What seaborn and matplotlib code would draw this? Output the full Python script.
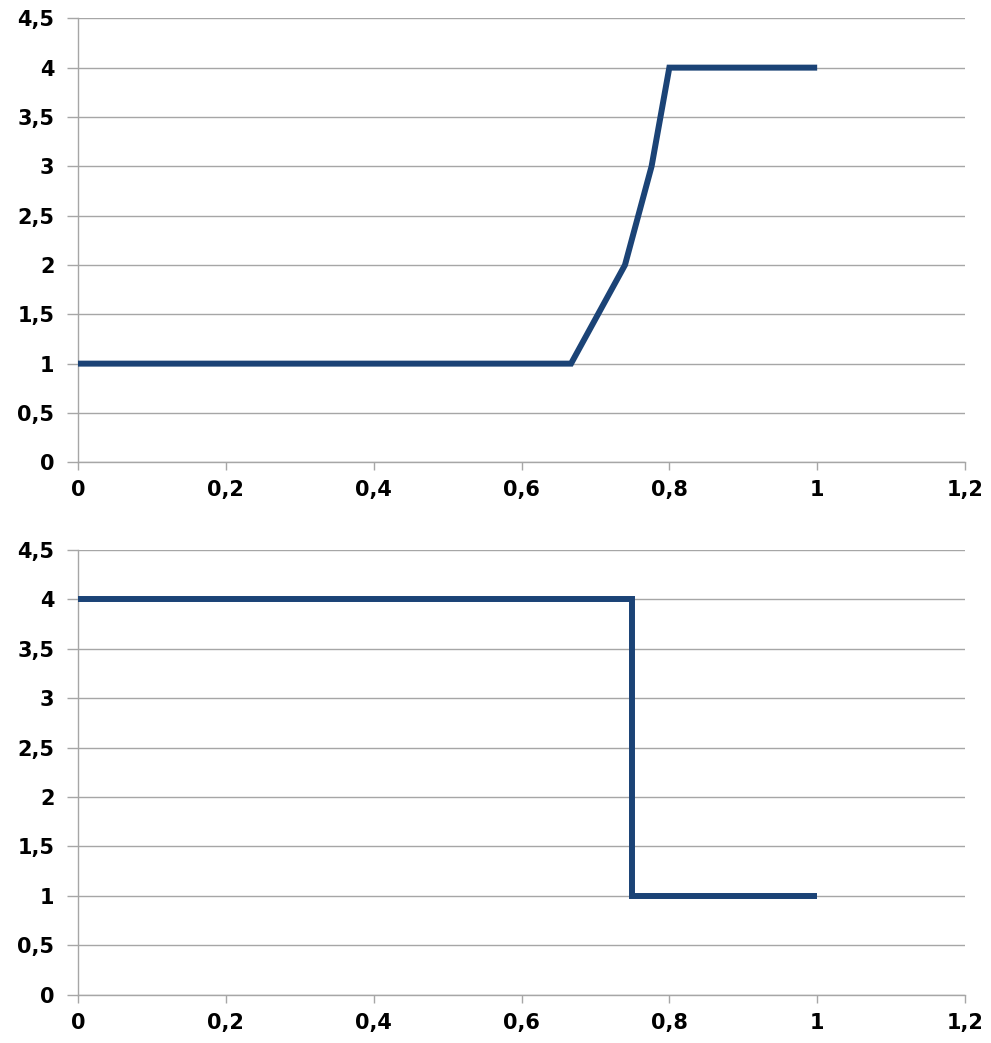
import matplotlib
matplotlib.use("Agg")
import matplotlib.pyplot as plt
import pandas as pd
import seaborn as sns
from matplotlib.ticker import FuncFormatter, MultipleLocator

# data
top_x = [0.0, 0.667, 0.74, 0.776, 0.8, 1.0]
top_y = [1, 1, 2, 3, 4, 4]
bottom_x = [0.0, 0.75, 0.75, 1.0]
bottom_y = [4, 4, 1, 1]

line_color = "#1B4376"
grid_color = "#A6A6A6"

sns.set_theme(style="white")
plt.rcParams["font.family"] = ["DejaVu Sans"]


def comma(v, pos):
    return "{:g}".format(round(v, 2)).replace(".", ",")


fig = plt.figure(figsize=(9.91, 10.43), dpi=100)
ax1 = fig.add_axes([78 / 991, 1 - 462.3 / 1043, (965 - 78) / 991, (462.3 - 18.3) / 1043])
ax2 = fig.add_axes([78 / 991, 1 - 994.7 / 1043, (965 - 78) / 991, (994.7 - 550) / 1043])

for ax, xs, ys in [(ax1, top_x, top_y), (ax2, bottom_x, bottom_y)]:
    df = pd.DataFrame({"x": xs, "y": ys})
    sns.lineplot(data=df, x="x", y="y", ax=ax, sort=False, estimator=None,
                 color=line_color, linewidth=4.3, zorder=3,
                 solid_capstyle="butt", solid_joinstyle="miter")
    ax.set_xlim(0, 1.2)
    ax.set_ylim(0, 4.5)
    ax.xaxis.set_major_locator(MultipleLocator(0.2))
    ax.yaxis.set_major_locator(MultipleLocator(0.5))
    ax.xaxis.set_major_formatter(FuncFormatter(comma))
    ax.yaxis.set_major_formatter(FuncFormatter(comma))
    ax.grid(axis="y", color=grid_color, linewidth=1.0)
    ax.grid(axis="x", visible=False)
    ax.set_xlabel("")
    ax.set_ylabel("")
    for s in ["top", "right"]:
        ax.spines[s].set_visible(False)
    for s in ["left", "bottom"]:
        ax.spines[s].set_color(grid_color)
        ax.spines[s].set_linewidth(1.0)
    ax.tick_params(axis="x", bottom=True, length=6, width=1.0, color=grid_color,
                   pad=7, labelsize=15, labelcolor="black")
    ax.tick_params(axis="y", left=True, length=8, width=1.0, color=grid_color,
                   pad=9, labelsize=15, labelcolor="black")
    for lab in ax.get_xticklabels() + ax.get_yticklabels():
        lab.set_fontweight("bold")

fig.savefig("out.png", dpi=100)
